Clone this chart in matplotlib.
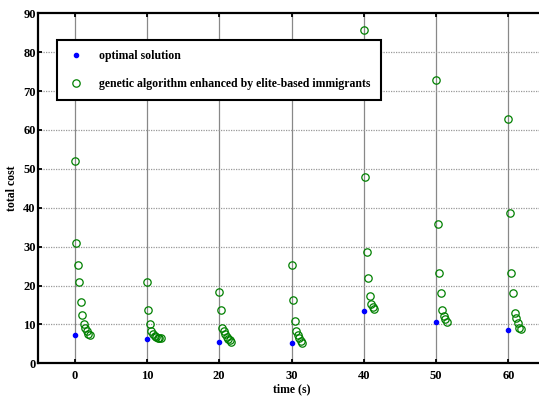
import numpy as np
import matplotlib.pyplot as plt

plt.rcParams['font.family'] = ['Liberation Serif', 'DejaVu Serif']
plt.rcParams['font.weight'] = 'bold'

# data to plot
times = [0, 10, 20, 30, 40, 50, 60]
optimal = [7.3, 6.2, 5.6, 5.1, 13.5, 10.5, 8.6]
ga_costs = [
    [52.0, 30.9, 25.2, 20.9, 15.7, 12.5, 10.1, 9.0, 8.2, 7.6, 7.2],
    [20.9, 13.7, 10.1, 8.4, 7.5, 7.1, 6.8, 6.6, 6.5, 6.4],
    [18.3, 13.6, 9.2, 8.4, 7.5, 6.8, 6.3, 5.9, 5.6],
    [25.3, 16.3, 10.8, 8.2, 7.3, 6.4, 5.7, 5.3],
    [85.8, 47.9, 28.5, 21.9, 17.4, 15.2, 14.5, 13.9],
    [72.8, 35.7, 23.3, 18.2, 13.7, 12.2, 11.4, 10.7],
    [62.7, 38.6, 23.1, 18.2, 12.9, 11.6, 10.4, 9.2, 8.8],
]
step = 0.21  # horizontal spread of the GA generations after each time point

fig = plt.figure(figsize=(5.39, 4.01), dpi=100)
ax = fig.add_axes([0.0714, 0.094, 0.939, 0.873])

ga_x = []
ga_y = []
for t, costs in zip(times, ga_costs):
    ga_x += [t + step * k for k in range(len(costs))]
    ga_y += costs

ax.plot(times, optimal, linestyle='none', marker='o', markersize=3,
        color='#0000ff', label='optimal solution', zorder=3)
ax.plot(ga_x, ga_y, linestyle='none', marker='o', markersize=5.3,
        markerfacecolor='none', markeredgecolor='#008000', markeredgewidth=0.9,
        label='genetic algorithm enhanced by elite-based immigrants', zorder=3)

ax.set_xlim(-5, 65)
ax.set_ylim(0, 90)
ax.set_xticks(times)
ax.set_yticks(np.arange(0, 91, 10))

for t in times:
    ax.axvline(t, color='#888888', linewidth=0.9, zorder=1)
for v in range(10, 90, 10):
    ax.axhline(v, color='#999999', linewidth=0.9, linestyle=(0, (1, 1)), zorder=1)

for s in ax.spines.values():
    s.set_linewidth(1.6)
ax.tick_params(direction='in', top=True, right=False, length=3, width=1.3,
               labelsize=9)
ax.tick_params(axis='x', pad=5)
ax.tick_params(axis='y', pad=2)
for lab in ax.get_xticklabels() + ax.get_yticklabels():
    lab.set_fontweight('bold')

ax.set_xlabel('time (s)', fontsize=8.5, fontweight='bold', labelpad=1)
ax.set_ylabel('total cost', fontsize=8.5, fontweight='bold', labelpad=4)

leg = ax.legend(loc='upper left', bbox_to_anchor=(0.036, 0.924), borderaxespad=0,
                fancybox=False, framealpha=1, edgecolor='black',
                prop={'size': 8.5, 'weight': 'bold'}, labelspacing=1.3,
                handlelength=1.5, handletextpad=1.2, borderpad=0.9, numpoints=1)
leg.get_frame().set_linewidth(1.5)

fig.savefig('out.png', dpi=100)
